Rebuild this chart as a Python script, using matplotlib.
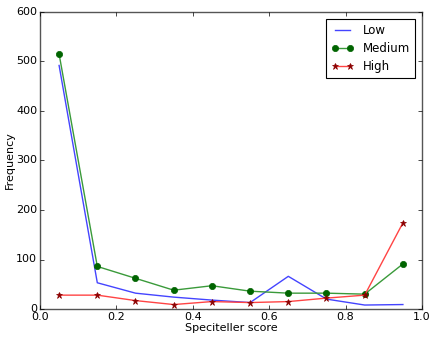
import matplotlib
matplotlib.use("Agg")
import matplotlib.pyplot as plt

plt.style.use('classic')

x = [0.05, 0.15, 0.25, 0.35, 0.45, 0.55, 0.65, 0.75, 0.85, 0.95]
low = [492, 53, 32, 24, 18, 13, 66, 20, 8, 9]
medium = [515, 86, 62, 38, 47, 36, 32, 32, 30, 91]
high = [28, 28, 17, 9, 15, 13, 15, 22, 28, 174]

fig = plt.figure(figsize=(4.31, 3.40), dpi=100)
ax = fig.add_axes([40/431, 1 - 309/340, 382/431, 297/340])

ax.plot(x, low, color='#4444ff', lw=1, label='Low')
ax.plot(x, medium, color='#3a9a3a', lw=1, label='Medium',
        marker='o', markersize=4.5, markerfacecolor='#006400', markeredgecolor='#006400')
ax.plot(x, high, color='#ff4444', lw=1, label='High',
        marker='*', markersize=5, markerfacecolor='#8b0000', markeredgecolor='#8b0000')

ax.set_xlim(0, 1.0)
ax.set_ylim(0, 600)
ax.set_xticks([0.0, 0.2, 0.4, 0.6, 0.8, 1.0])
ax.set_yticks([0, 100, 200, 300, 400, 500, 600])
ax.tick_params(labelsize=8, length=3, pad=2)
ax.set_xlabel('Speciteller score', fontsize=8, labelpad=1)
ax.set_ylabel('Frequency', fontsize=8, labelpad=1)
for s in ax.spines.values():
    s.set_color('#555555')

leg = ax.legend(loc='upper right', fontsize=8.5, numpoints=2, borderaxespad=0.6,
                labelspacing=0.45, handlelength=1.9)
leg.get_frame().set_linewidth(0.8)

fig.savefig('out.png', dpi=100)
